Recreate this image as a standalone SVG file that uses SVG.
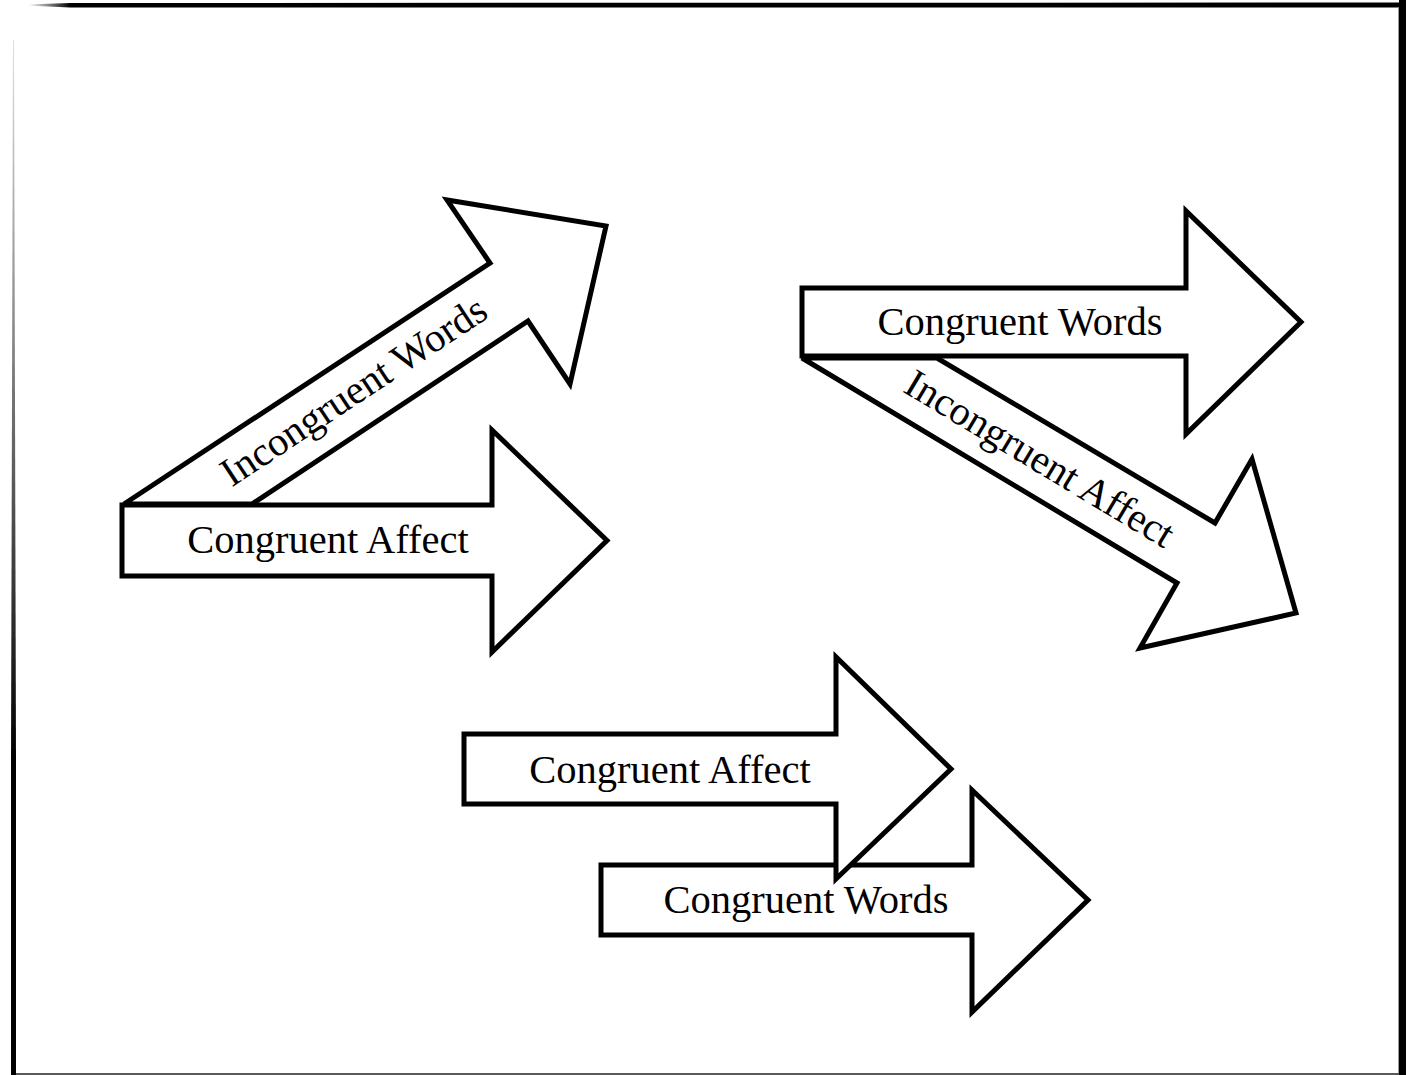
<svg xmlns="http://www.w3.org/2000/svg" width="1412" height="1075" viewBox="0 0 1412 1075">
  <style>
    .arrow { fill: #ffffff; stroke: #000000; stroke-width: 5; stroke-linejoin: miter; stroke-miterlimit: 3; }
    .label { font-family: "Liberation Serif", "Times New Roman", serif; font-size: 40.5px; fill: #000000; }
  </style>
  <defs>
    <linearGradient id="leftEdge" x1="0" y1="40" x2="0" y2="760" gradientUnits="userSpaceOnUse">
      <stop offset="0" stop-color="#e0e0e0"/>
      <stop offset="0.4" stop-color="#8a8a8a"/>
      <stop offset="1" stop-color="#000000"/>
    </linearGradient>
    <linearGradient id="topEdge" x1="28" y1="0" x2="70" y2="0" gradientUnits="userSpaceOnUse">
      <stop offset="0" stop-color="#ffffff"/>
      <stop offset="1" stop-color="#000000"/>
    </linearGradient>
  </defs>

  <rect x="0" y="0" width="1412" height="1075" fill="#ffffff"/>

  <!-- page frame -->
  <g id="frame">
    <polygon points="26,4.5 70,3 1406,2.5 1406,7.5 70,7.5 26,5.5" fill="url(#topEdge)"/>
    <rect x="1399" y="0" width="7" height="1075" fill="#000000"/>
    <rect x="1398" y="8" width="1" height="1065" fill="#9a9a9a"/>
    <polygon points="13,40 14,40 16,760 16,1075 11,1075 11,760" fill="url(#leftEdge)"/>
    <rect x="16" y="1073" width="1383" height="2" fill="#5a5a5a"/>
  </g>

  <!-- top-left pair -->
  <g id="incongruent-words-1">
    <polygon class="arrow" points="124,504 490,263 447,200 606,226 570,384 528,321 252,504"/>
    <text class="label" text-anchor="middle" transform="translate(361,402) rotate(-33.5)">Incongruent Words</text>
  </g>
  <g id="congruent-affect-1">
    <polygon class="arrow" points="122,505 492,505 492,430 607,540.5 492,652 492,576 122,576"/>
    <text class="label" x="328" y="553" text-anchor="middle">Congruent Affect</text>
  </g>

  <!-- top-right pair -->
  <g id="congruent-words-1">
    <polygon class="arrow" points="802,288 1186,288 1186,211 1301,322 1186,434 1186,356 802,356"/>
    <text class="label" x="1020" y="335" text-anchor="middle">Congruent Words</text>
  </g>
  <g id="incongruent-affect-1">
    <polygon class="arrow" points="802,358 937,358 1215,523 1252,459 1296,613 1140,648 1177,583"/>
    <text class="label" text-anchor="middle" transform="translate(1033,470) rotate(31)">Incongruent Affect</text>
  </g>

  <!-- bottom pair -->
  <g id="congruent-words-2">
    <polygon class="arrow" points="601,865 972,865 972,790 1088,900 972,1012 972,935 601,935"/>
    <text class="label" x="806" y="913" text-anchor="middle">Congruent Words</text>
  </g>
  <g id="congruent-affect-2">
    <polygon class="arrow" points="464,734 836,734 836,657 951,769 836,879 836,804 464,804"/>
    <text class="label" x="670" y="783" text-anchor="middle">Congruent Affect</text>
  </g>
</svg>
